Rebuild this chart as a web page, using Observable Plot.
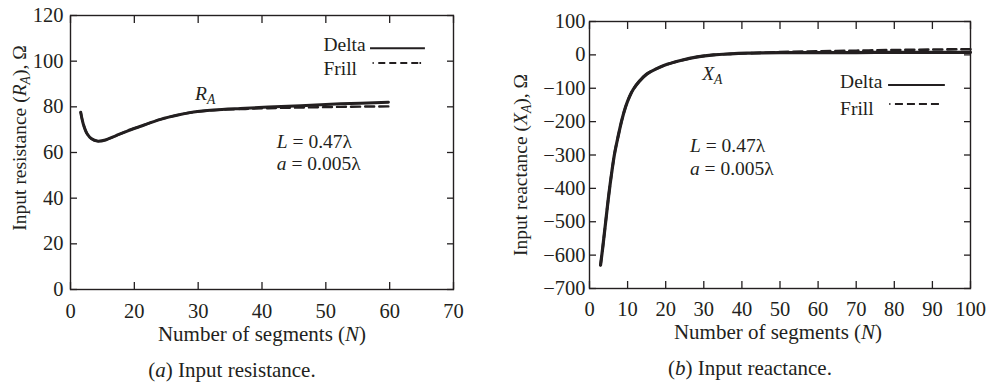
<!DOCTYPE html>
<html><head><meta charset="utf-8">
<script src="https://cdn.jsdelivr.net/npm/d3@7"></script>
<script src="https://cdn.jsdelivr.net/npm/@observablehq/plot@0.6"></script>
<style>
body{margin:0;background:#fff;}
#wrap{position:relative;width:989px;height:385px;font-family:"Liberation Serif","Times New Roman",serif;color:#231f20;overflow:hidden;}
.panel{position:absolute;top:0;}
.lbl{position:absolute;white-space:nowrap;font-size:21px;line-height:1;}
.ylbl{position:absolute;white-space:nowrap;font-size:19.5px;line-height:1;transform:translate(-50%,-50%) rotate(-90deg);}
sub{font-size:0.7em;vertical-align:-0.25em;line-height:0;}
</style></head>
<body><div id="wrap"></div>
<script>
// ---------- (a) Input resistance ----------
const nA     = [11.6, 12.0, 12.6, 13.3, 14.2, 15.5, 17.0, 18.9, 21.0, 24.1, 27.0, 29.3, 32.4, 36.6, 41.0, 46.1, 52.3, 59.8];
const rDelta = [77.6, 72.5, 68.2, 66.0, 65.0, 65.5, 67.2, 69.4, 71.5, 74.5, 76.5, 77.7, 78.6, 79.3, 79.9, 80.5, 81.3, 82.0];
const rFrill = [77.6, 72.5, 68.2, 66.0, 65.0, 65.5, 67.2, 69.4, 71.5, 74.5, 76.5, 77.7, 78.5, 79.0, 79.4, 79.7, 80.0, 80.2];
const xTicksA = [10, 20, 30, 40, 50, 60, 70];
const xTickLabelsA = ["0", "20", "30", "40", "50", "60", "70"];
const yTicksA = [0, 20, 40, 60, 80, 100, 120];

// ---------- (b) Input reactance ----------
const nB     = [2.9, 3.5, 4.2, 5.0, 5.8, 6.6, 7.5, 8.5, 9.5, 10.5, 11.5, 13.0, 15.1, 17.5, 19.5, 23.9, 28.3, 32.6, 37.0, 41.3, 45, 50, 60, 70, 80, 90, 100];
const xDelta = [-630, -575, -505, -425, -355, -295, -245, -195, -155, -125, -103, -80, -57, -42, -32, -17, -6, 0, 3, 5, 6, 6.5, 7, 7, 7.5, 7.5, 7.5];
const xFrill = [-630, -575, -505, -425, -355, -295, -245, -195, -155, -125, -103, -80, -57, -42, -32, -17, -6, 0, 3, 5, 6, 8.5, 10.5, 12.5, 14.5, 16, 17];
const xTicksB = [0, 10, 20, 30, 40, 50, 60, 70, 80, 90, 100];
const yTicksB = [-700, -600, -500, -400, -300, -200, -100, 0, 100];

const ink = "#231f20";
const serif = '"Liberation Serif","Times New Roman",serif';
const dataA = nA.map((n, i) => ({N: n, delta: rDelta[i], frill: rFrill[i]}));
const dataB = nB.map((n, i) => ({N: n, delta: xDelta[i], frill: xFrill[i]}));
const labA = new Map(xTicksA.map((t, i) => [t, xTickLabelsA[i]]));

function axes(xt, yt, xfmt, pad) {
  return [
    Plot.frame({stroke: ink, strokeWidth: 1.4}),
    Plot.axisX({ticks: xt, anchor: "bottom", tickSize: -7, tickPadding: pad.x, tickFormat: xfmt, label: null, strokeWidth: 1.3}),
    Plot.axisX({ticks: xt, anchor: "top", tickSize: -7, tickFormat: () => "", label: null, strokeWidth: 1.3}),
    Plot.axisY({ticks: yt, anchor: "left", tickSize: -7, tickPadding: pad.y, label: null, strokeWidth: 1.3}),
    Plot.axisY({ticks: yt, anchor: "right", tickSize: -7, tickFormat: () => "", label: null, strokeWidth: 1.3})
  ];
}

const style = {fontFamily: serif, fontSize: "20.5px", color: ink, background: "transparent", overflow: "visible"};

const plotA = Plot.plot({
  width: 490, height: 350,
  marginLeft: 70, marginRight: 37, marginTop: 15, marginBottom: 61,
  style,
  x: {domain: [10, 70]},
  y: {domain: [0, 120]},
  marks: [
    ...axes(xTicksA, yTicksA, d => labA.get(d), {x: 21, y: 14}),
    Plot.line(dataA, {x: "N", y: "frill", stroke: ink, strokeWidth: 2.4, strokeDasharray: "9,5", curve: "catmull-rom"}),
    Plot.line(dataA, {x: "N", y: "delta", stroke: ink, strokeWidth: 3, curve: "catmull-rom"})
  ]
});

const plotB = Plot.plot({
  width: 494, height: 350,
  marginLeft: 94, marginRight: 19, marginTop: 21, marginBottom: 62,
  style,
  x: {domain: [0, 100]},
  y: {domain: [-700, 100]},
  marks: [
    ...axes(xTicksB, yTicksB, undefined, {x: 20, y: 11}),
    Plot.line(dataB, {x: "N", y: "frill", stroke: ink, strokeWidth: 2.6, strokeDasharray: "9,5", curve: "catmull-rom"}),
    Plot.line(dataB, {x: "N", y: "delta", stroke: ink, strokeWidth: 3.2, curve: "catmull-rom"})
  ]
});

// annotations, placed in data units through each plot's scales
function rich(plot, x, y, parts, size = 19.5) {
  const sx = plot.scale("x"), sy = plot.scale("y");
  const t = d3.select(plot).append("text")
    .attr("x", sx.apply(x)).attr("y", sy.apply(y))
    .attr("text-anchor", "start")
    .attr("fill", ink).attr("font-size", size)
    .attr("font-family", serif);
  for (const p of parts) {
    const s = t.append("tspan").text(p.t);
    if (p.i) s.attr("font-style", "italic");
    if (p.sub) s.attr("font-size", size * 0.7).attr("dy", 4);
  }
}
function seg(plot, x1, x2, y, dash, w) {
  const sx = plot.scale("x"), sy = plot.scale("y");
  d3.select(plot).append("line")
    .attr("x1", sx.apply(x1)).attr("x2", sx.apply(x2))
    .attr("y1", sy.apply(y)).attr("y2", sy.apply(y))
    .attr("stroke", ink).attr("stroke-width", w)
    .attr("stroke-dasharray", dash);
}

// (a)
rich(plotA, 29.6, 82.8, [{t: "R", i: 1}, {t: "A", i: 1, sub: 1}]);
rich(plotA, 42.4, 61.8, [{t: "L", i: 1}, {t: " = 0.47λ"}]);
rich(plotA, 42.4, 52.1, [{t: "a", i: 1}, {t: " = 0.005λ"}]);
rich(plotA, 49.7, 104.2, [{t: "Delta"}]);
rich(plotA, 49.7, 93.7, [{t: "Frill"}]);
seg(plotA, 57.0, 65.6, 105.4, null, 2);
seg(plotA, 57.4, 65.0, 99.0, "1.2,4.5,7,4,7,4,7,4,7", 2);

// (b)
rich(plotB, 29.7, -77, [{t: "X", i: 1}, {t: "A", i: 1, sub: 1}]);
rich(plotB, 26.5, -292, [{t: "L", i: 1}, {t: " = 0.47λ"}]);
rich(plotB, 26.5, -362, [{t: "a", i: 1}, {t: " = 0.005λ"}]);
rich(plotB, 65.9, -101, [{t: "Delta"}]);
rich(plotB, 65.9, -182, [{t: "Frill"}]);
seg(plotB, 78.5, 93.4, -92, null, 2);
seg(plotB, 78.8, 92.1, -149, "1.2,4.5,8,4,8,4,8,4,8", 2);

const wrap = document.getElementById("wrap");
plotA.classList.add("panel"); plotA.style.left = "0px";
plotB.classList.add("panel"); plotB.style.left = "495px";
wrap.appendChild(plotA); wrap.appendChild(plotB);

function html(cls, text, cx, cy) {
  const d = document.createElement("div");
  d.className = cls; d.innerHTML = text;
  wrap.appendChild(d);
  if (cls === "lbl") {
    const r = d.getBoundingClientRect();
    d.style.left = (cx - r.width / 2) + "px";
    d.style.top = (cy - r.height / 2) + "px";
  } else {
    d.style.left = cx + "px"; d.style.top = cy + "px";
  }
}
html("lbl", "Number of segments (<i>N</i>)", 262, 334);
html("lbl", "Number of segments (<i>N</i>)", 778, 332);
html("lbl", "(<i>a</i>) Input resistance.", 232, 370);
html("lbl", "(<i>b</i>) Input reactance.", 750, 368);
html("ylbl", "Input resistance (<i>R<sub>A</sub></i>), Ω", 20, 138);
html("ylbl", "Input reactance (<i>X<sub>A</sub></i>), Ω", 521, 165);
</script>
</body></html>
